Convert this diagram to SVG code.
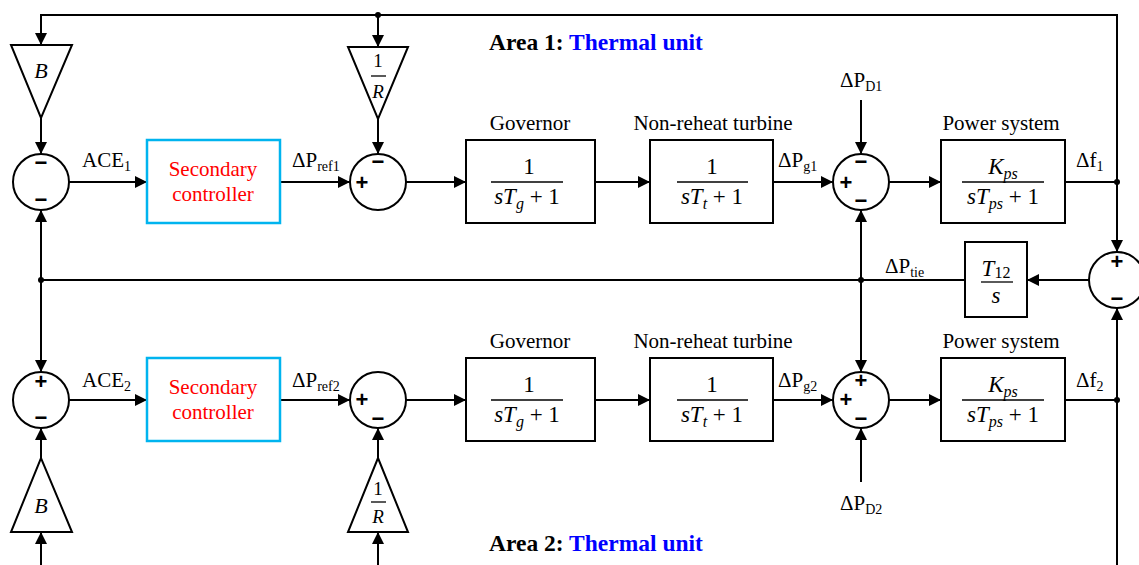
<svg xmlns="http://www.w3.org/2000/svg" width="1139" height="565" viewBox="0 0 1139 565">
<defs>
<marker id="ah" markerUnits="userSpaceOnUse" markerWidth="13" markerHeight="12" refX="12" refY="6" orient="auto">
<path d="M0,0 L12,6 L0,12 z" fill="#000"/>
</marker>
<style>
.ln{fill:none;stroke:#000;stroke-width:2}
.arr{fill:none;stroke:#000;stroke-width:2;marker-end:url(#ah)}
.box{fill:#fff;stroke:#000;stroke-width:2}
.sc{fill:#fff;stroke:#00B4EF;stroke-width:2.5}
.sum{fill:#fff;stroke:#000;stroke-width:2}
.tri{fill:#fff;stroke:#000;stroke-width:2;stroke-linejoin:miter}
.lbl{font-family:"Liberation Serif",serif;font-size:21px;fill:#000}
.sub{font-size:14px}
.red{font-family:"Liberation Serif",serif;font-size:21px;fill:#FF0000;text-anchor:middle}
.m{font-family:"Liberation Serif",serif;font-size:23px;fill:#000;text-anchor:middle}
.ms{font-size:16px}
.it{font-style:italic}
.sg{font-family:"Liberation Sans",sans-serif;font-size:22px;font-weight:bold;fill:#000;text-anchor:middle}
.ttl{font-family:"Liberation Serif",serif;font-size:23.5px;font-weight:bold;fill:#000}
.blue{fill:#0000FF}
.fl{stroke:#000;stroke-width:1.3}
</style>
</defs>

<g id="connectors">
<path class="arr" d="M1117,182 V15 H41 V45"/>
<path class="arr" d="M378,15 V47"/>
<path class="arr" d="M1117,182 V252"/>
<path class="ln" d="M1065,182 H1117"/>
<path class="arr" d="M41,118 V154"/>
<path class="arr" d="M69,182 H147"/>
<path class="arr" d="M280,182 H350"/>
<path class="arr" d="M378,119 V154"/>
<path class="arr" d="M406,182 H466"/>
<path class="arr" d="M595,182 H650"/>
<path class="arr" d="M773,182 H833"/>
<path class="arr" d="M861,100 V154"/>
<path class="arr" d="M889,182 H941"/>
<path class="arr" d="M1089,280 H1027"/>
<path class="ln" d="M965,280 H41"/>
<path class="arr" d="M41,280 V210"/>
<path class="arr" d="M41,280 V372"/>
<path class="arr" d="M861,280 V210"/>
<path class="arr" d="M861,280 V372"/>
<path class="arr" d="M69,400 H147"/>
<path class="arr" d="M280,400 H350"/>
<path class="arr" d="M406,400 H466"/>
<path class="arr" d="M595,400 H650"/>
<path class="arr" d="M773,400 H833"/>
<path class="arr" d="M889,400 H941"/>
<path class="ln" d="M1065,400 H1117"/>
<path class="arr" d="M41,458 V428"/>
<path class="arr" d="M41,565 V532"/>
<path class="arr" d="M378,458 V428"/>
<path class="arr" d="M378,565 V532"/>
<path class="arr" d="M861,482 V428"/>
<path class="arr" d="M1117,565 V308"/>
<circle cx="378" cy="15" r="3"/>
<circle cx="1117" cy="182" r="3"/>
<circle cx="41" cy="280" r="3"/>
<circle cx="861" cy="280" r="3"/>
<circle cx="1117" cy="400" r="3"/>
</g>

<g id="title1"><text class="ttl" x="489" y="50">Area 1: <tspan class="blue">Thermal unit</tspan></text></g>
<g id="title2"><text class="ttl" x="489" y="551">Area 2: <tspan class="blue">Thermal unit</tspan></text></g>

<g id="B1">
<polygon class="tri" points="11,45 72,45 41,118"/>
<text class="m it" x="41" y="78" style="font-size:22px">B</text>
</g>
<g id="invR1">
<polygon class="tri" points="348,47 408,47 378,119"/>
<text class="m" x="378" y="67" style="font-size:19px">1</text>
<line class="fl" x1="371" y1="76" x2="386" y2="76"/>
<text class="m it" x="378" y="98" style="font-size:19px">R</text>
</g>
<g id="sum1">
<circle class="sum" cx="41" cy="182" r="28"/>
<text class="sg" x="41" y="170">−</text>
<text class="sg" x="41" y="207">−</text>
</g>
<g id="ace1"><text class="lbl" x="82" y="167">ACE<tspan class="sub" dy="4">1</tspan></text></g>
<g id="sec1">
<rect class="sc" x="147" y="140" width="133" height="83"/>
<text class="red" x="213" y="176">Secondary</text>
<text class="red" x="213" y="201">controller</text>
</g>
<g id="pref1"><text class="lbl" x="292" y="167">ΔP<tspan class="sub" dy="4">ref1</tspan></text></g>
<g id="sum2">
<circle class="sum" cx="378" cy="182" r="28"/>
<text class="sg" x="378" y="169">−</text>
<text class="sg" x="362" y="190">+</text>
</g>
<g id="gov1">
<text class="lbl" x="530" y="130" text-anchor="middle">Governor</text>
<rect class="box" x="466" y="140" width="129" height="83"/>
<text class="m" x="529" y="174">1</text>
<line class="fl" x1="491" y1="182" x2="563" y2="182"/>
<text class="m" x="527" y="204"><tspan class="it">sT</tspan><tspan class="ms it" dy="5">g</tspan><tspan dy="-5"> + 1</tspan></text>
</g>
<g id="turb1">
<text class="lbl" x="713" y="130" text-anchor="middle">Non-reheat turbine</text>
<rect class="box" x="650" y="140" width="123" height="83"/>
<text class="m" x="712" y="174">1</text>
<line class="fl" x1="677" y1="182" x2="748" y2="182"/>
<text class="m" x="712" y="204"><tspan class="it">sT</tspan><tspan class="ms it" dy="5">t</tspan><tspan dy="-5"> + 1</tspan></text>
</g>
<g id="pg1"><text class="lbl" x="778" y="167">ΔP<tspan class="sub" dy="4">g1</tspan></text></g>
<g id="pd1"><text class="lbl" x="840" y="87">ΔP<tspan class="sub" dy="4">D1</tspan></text></g>
<g id="sum3">
<circle class="sum" cx="861" cy="182" r="28"/>
<text class="sg" x="861" y="169">−</text>
<text class="sg" x="846" y="190">+</text>
<text class="sg" x="861" y="208">−</text>
</g>
<g id="ps1">
<text class="lbl" x="1001" y="130" text-anchor="middle">Power system</text>
<rect class="box" x="941" y="140" width="124" height="83"/>
<text class="m" x="1003" y="174"><tspan class="it">K</tspan><tspan class="ms it" dy="5">ps</tspan></text>
<line class="fl" x1="962" y1="182" x2="1044" y2="182"/>
<text class="m" x="1003" y="204"><tspan class="it">sT</tspan><tspan class="ms it" dy="5">ps</tspan><tspan dy="-5"> + 1</tspan></text>
</g>
<g id="df1"><text class="lbl" x="1076" y="167">Δf<tspan class="sub" dy="4">1</tspan></text></g>

<g id="sum4">
<circle class="sum" cx="1117" cy="280" r="28"/>
<text class="sg" x="1117" y="269">+</text>
<text class="sg" x="1117" y="306">−</text>
</g>
<g id="tie">
<rect class="box" x="965" y="242" width="62" height="75"/>
<text class="m" x="996" y="276"><tspan class="it">T</tspan><tspan class="ms" dy="2">12</tspan></text>
<line class="fl" x1="981" y1="282" x2="1013" y2="282"/>
<text class="m it" x="996" y="303">s</text>
</g>
<g id="ptie"><text class="lbl" x="885" y="273">ΔP<tspan class="sub" dy="4">tie</tspan></text></g>

<g id="sum5">
<circle class="sum" cx="41" cy="400" r="28"/>
<text class="sg" x="41" y="389">+</text>
<text class="sg" x="41" y="425">−</text>
</g>
<g id="ace2"><text class="lbl" x="82" y="387">ACE<tspan class="sub" dy="4">2</tspan></text></g>
<g id="sec2">
<rect class="sc" x="147" y="358" width="133" height="83"/>
<text class="red" x="213" y="394">Secondary</text>
<text class="red" x="213" y="419">controller</text>
</g>
<g id="pref2"><text class="lbl" x="292" y="387">ΔP<tspan class="sub" dy="4">ref2</tspan></text></g>
<g id="sum6">
<circle class="sum" cx="378" cy="400" r="28"/>
<text class="sg" x="362" y="407">+</text>
<text class="sg" x="378" y="426">−</text>
</g>
<g id="B2">
<polygon class="tri" points="11,532 72,532 41,458"/>
<text class="m it" x="41" y="513" style="font-size:22px">B</text>
</g>
<g id="invR2">
<polygon class="tri" points="348,532 408,532 378,458"/>
<text class="m" x="378" y="495" style="font-size:19px">1</text>
<line class="fl" x1="371" y1="502" x2="386" y2="502"/>
<text class="m it" x="378" y="523" style="font-size:19px">R</text>
</g>
<g id="gov2">
<text class="lbl" x="530" y="348" text-anchor="middle">Governor</text>
<rect class="box" x="466" y="358" width="129" height="83"/>
<text class="m" x="529" y="392">1</text>
<line class="fl" x1="491" y1="400" x2="563" y2="400"/>
<text class="m" x="527" y="422"><tspan class="it">sT</tspan><tspan class="ms it" dy="5">g</tspan><tspan dy="-5"> + 1</tspan></text>
</g>
<g id="turb2">
<text class="lbl" x="713" y="348" text-anchor="middle">Non-reheat turbine</text>
<rect class="box" x="650" y="358" width="123" height="83"/>
<text class="m" x="712" y="392">1</text>
<line class="fl" x1="677" y1="400" x2="748" y2="400"/>
<text class="m" x="712" y="422"><tspan class="it">sT</tspan><tspan class="ms it" dy="5">t</tspan><tspan dy="-5"> + 1</tspan></text>
</g>
<g id="pg2"><text class="lbl" x="778" y="387">ΔP<tspan class="sub" dy="4">g2</tspan></text></g>
<g id="sum7">
<circle class="sum" cx="861" cy="400" r="28"/>
<text class="sg" x="861" y="388">+</text>
<text class="sg" x="846" y="407">+</text>
<text class="sg" x="861" y="426">−</text>
</g>
<g id="pd2"><text class="lbl" x="840" y="510">ΔP<tspan class="sub" dy="4">D2</tspan></text></g>
<g id="ps2">
<text class="lbl" x="1001" y="348" text-anchor="middle">Power system</text>
<rect class="box" x="941" y="358" width="124" height="83"/>
<text class="m" x="1003" y="392"><tspan class="it">K</tspan><tspan class="ms it" dy="5">ps</tspan></text>
<line class="fl" x1="962" y1="400" x2="1044" y2="400"/>
<text class="m" x="1003" y="422"><tspan class="it">sT</tspan><tspan class="ms it" dy="5">ps</tspan><tspan dy="-5"> + 1</tspan></text>
</g>
<g id="df2"><text class="lbl" x="1076" y="387">Δf<tspan class="sub" dy="4">2</tspan></text></g>
</svg>
